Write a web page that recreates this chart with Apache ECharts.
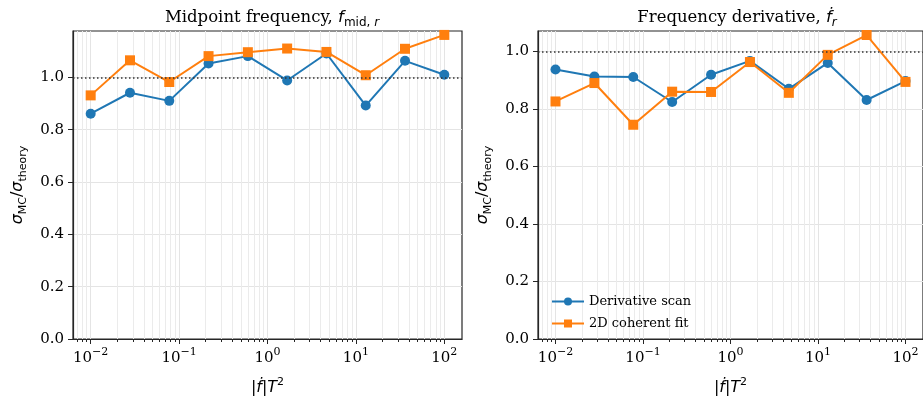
<!DOCTYPE html>
<html>
<head>
<meta charset="utf-8">
<script src="https://cdn.jsdelivr.net/npm/echarts@6/dist/echarts.min.js"></script>
<style>
    html, body { margin: 0; padding: 0; background: #fff; }
    #chart { width: 923px; height: 401px; }
</style>
</head>
<body>
<div id="chart"></div>
<script>
    // |fdot| T^2 values (log spaced, 10 points)
    var xVals = [0.01, 0.02783, 0.07743, 0.2154, 0.5995, 1.668, 4.642, 12.92, 35.94, 100];
    // midpoint frequency panel
    var midScan = [0.861, 0.941, 0.910, 1.053, 1.081, 0.988, 1.091, 0.892, 1.063, 1.010];
    var midFit = [0.931, 1.065, 0.982, 1.081, 1.096, 1.110, 1.097, 1.008, 1.109, 1.162];
    // frequency derivative panel
    var derScan = [0.937, 0.913, 0.911, 0.824, 0.919, 0.967, 0.870, 0.960, 0.831, 0.897];
    var derFit = [0.826, 0.890, 0.745, 0.860, 0.859, 0.963, 0.856, 0.988, 1.057, 0.894];
    // axis ticks
    var xMajorTicks = [0.01, 0.1, 1, 10, 100];
    var yTicks = [0, 0.2, 0.4, 0.6, 0.8, 1.0];
    var seriesNames = ['Derivative scan', '2D coherent fit'];

    var SERIF = 'DejaVu Serif';
    var SANS = 'DejaVu Sans';
    var BLUE = '#1f77b4', ORANGE = '#ff7f0e';
    var X_MIN = -2.2, X_MAX = 2.2;

    // minor ticks 2..9 x 10^k
    var xMinorTicks = [];
    for (var k = -3; k <= 2; k++) {
        for (var m = 2; m <= 9; m++) {
            var lv = Math.log10(m * Math.pow(10, k));
            if (lv > X_MIN && lv < X_MAX) xMinorTicks.push(lv);
        }
    }
    var majorLog = xMajorTicks.map(function (v) { return Math.log10(v); });

    function pts(vals) {
        return xVals.map(function (x, i) { return [Math.log10(x), vals[i]]; });
    }

    var supRich = {
        sup: { fontFamily: SERIF, fontSize: 11, verticalAlign: 'top', lineHeight: 10, color: '#000' },
        base: { fontFamily: SERIF, fontSize: 15, lineHeight: 22, color: '#000' }
    };

    function xAxes(gridIndex) {
        return [{
            type: 'value', gridIndex: gridIndex, min: X_MIN, max: X_MAX, position: 'bottom',
            name: '|{it|ḟ}|{it|T}{sup|2}', nameLocation: 'middle', nameGap: 38,
            nameTextStyle: {
                fontFamily: SANS, fontSize: 16, color: '#000',
                rich: {
                    it: { fontFamily: SANS, fontStyle: 'italic', fontSize: 16, lineHeight: 22 },
                    sup: { fontFamily: SANS, fontSize: 11, verticalAlign: 'top', lineHeight: 10 }
                }
            },
            axisLine: { show: true, onZero: false, lineStyle: { color: '#262626', width: 1.2 } },
            axisTick: { show: true, length: 5, customValues: majorLog, lineStyle: { color: '#262626' } },
            axisLabel: {
                customValues: majorLog, margin: 8,
                formatter: function (v) {
                    var e = Math.round(v);
                    return '{base|10}{sup|' + (e < 0 ? '\u2212' : '') + Math.abs(e) + '}';
                },
                rich: supRich
            },
            splitLine: { show: true, lineStyle: { color: '#e4e4e4', width: 1 } }
        }, {
            type: 'value', gridIndex: gridIndex, min: X_MIN, max: X_MAX, position: 'bottom', offset: 0,
            axisLine: { show: false, onZero: false },
            axisTick: { show: true, length: 3, customValues: xMinorTicks, lineStyle: { color: '#262626' } },
            axisLabel: { show: false, customValues: xMinorTicks },
            splitLine: { show: true, lineStyle: { color: '#ebebeb', width: 1 } }
        }];
    }

    function yAxis(gridIndex, yMax) {
        return {
            type: 'value', gridIndex: gridIndex, min: 0, max: yMax,
            name: '{it|σ}{sub|MC}/{it|σ}{sub|theory}', nameLocation: 'middle', nameGap: 44,
            nameTextStyle: {
                fontFamily: SANS, fontSize: 16, color: '#000',
                rich: {
                    it: { fontFamily: SANS, fontStyle: 'italic', fontSize: 16, lineHeight: 22 },
                    sub: { fontFamily: SANS, fontSize: 11, verticalAlign: 'bottom', lineHeight: 11 }
                }
            },
            axisLine: { show: true, onZero: false, lineStyle: { color: '#262626', width: 1.2 } },
            axisTick: { show: true, length: 5, customValues: yTicks, lineStyle: { color: '#262626' } },
            axisLabel: {
                customValues: yTicks,
                fontFamily: SERIF, fontSize: 15, color: '#000', margin: 9,
                formatter: function (v) { return v.toFixed(1); }
            },
            splitLine: { show: true, lineStyle: { color: '#e4e4e4', width: 1 } }
        };
    }

    function lineSeries(name, vals, xi, yi, color, symbol, withRef) {
        var s = {
            name: name, type: 'line', xAxisIndex: xi, yAxisIndex: yi,
            data: pts(vals),
            symbol: symbol, symbolSize: 10,
            showAllSymbol: true,
            lineStyle: { color: color, width: 2 },
            itemStyle: { color: color },
            z: symbol === 'circle' ? 3 : 4,
            emphasis: { disabled: true }
        };
        if (withRef) {
            s.markLine = {
                silent: true, symbol: 'none',
                label: { show: false },
                lineStyle: { color: '#333', type: [1.5, 2.5], width: 1.5 },
                data: [{ yAxis: 1.0 }]
            };
        }
        return s;
    }

    var titleRich = {
        it: { fontFamily: SANS, fontStyle: 'italic', fontSize: 16.5, lineHeight: 22, color: '#000' },
        sub: { fontFamily: SANS, fontSize: 12, verticalAlign: 'bottom', lineHeight: 11, color: '#000' },
        subit: { fontFamily: SANS, fontStyle: 'italic', fontSize: 12, verticalAlign: 'bottom', lineHeight: 11, color: '#000' }
    };

    var chart = echarts.init(document.getElementById('chart'), null, { renderer: 'canvas' });
    chart.setOption({
        animation: false,
        backgroundColor: '#fff',
        title: [{
            text: 'Midpoint frequency, {it|f}{sub|mid, }{subit|r}',
            left: 267, top: 2, textAlign: 'center',
            textStyle: { fontFamily: SERIF, fontSize: 16.5, fontWeight: 'normal', color: '#000', lineHeight: 22, rich: titleRich }
        }, {
            text: 'Frequency derivative, {it|ḟ}{subit|r}',
            left: 732, top: 2, textAlign: 'center',
            textStyle: { fontFamily: SERIF, fontSize: 16.5, fontWeight: 'normal', color: '#000', lineHeight: 22, rich: titleRich }
        }],
        legend: {
            data: seriesNames,
            orient: 'vertical', left: 546, top: 290,
            itemWidth: 32, itemHeight: 10, itemGap: 9,
            textStyle: { fontFamily: SERIF, fontSize: 13, color: '#000' }
        },
        grid: [
            { left: 73, top: 31, width: 389, height: 309, show: true, borderColor: '#262626', borderWidth: 1.2, backgroundColor: 'transparent' },
            { left: 538, top: 31, width: 389, height: 309, show: true, borderColor: '#262626', borderWidth: 1.2, backgroundColor: 'transparent' }
        ],
        xAxis: xAxes(0).concat(xAxes(1)),
        yAxis: [yAxis(0, 1.177), yAxis(1, 1.071)],
        series: [
            lineSeries(seriesNames[0], midScan, 0, 0, BLUE, 'circle', true),
            lineSeries(seriesNames[1], midFit, 0, 0, ORANGE, 'rect', false),
            lineSeries(seriesNames[0], derScan, 2, 1, BLUE, 'circle', true),
            lineSeries(seriesNames[1], derFit, 2, 1, ORANGE, 'rect', false)
        ]
    });
</script>
</body>
</html>
